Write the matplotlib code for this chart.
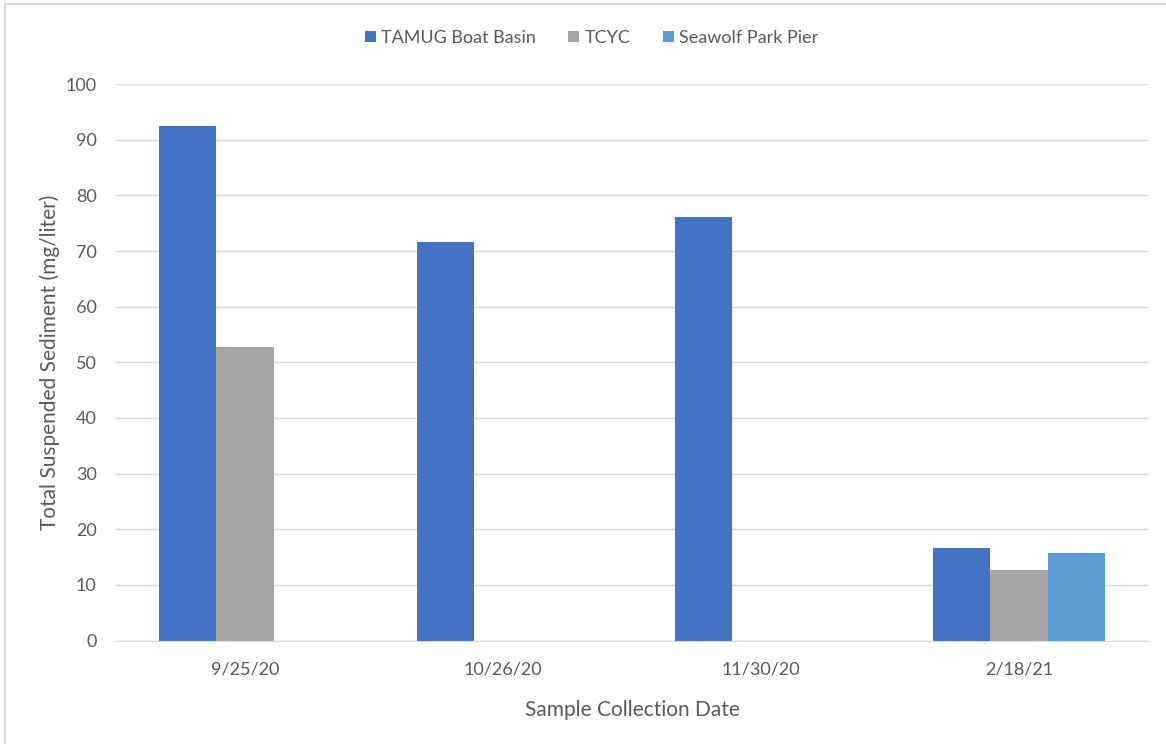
import matplotlib.pyplot as plt
from matplotlib.patches import Rectangle
import numpy as np

plt.rcParams['font.family'] = ['Lato', 'DejaVu Sans']

dates = ['9/25/20', '10/26/20', '11/30/20', '2/18/21']
sites = ['TAMUG Boat Basin', 'TCYC', 'Seawolf Park Pier']
tamug = [92.5, 71.7, 76.1, 16.7]
tcyc = [52.7, 0, 0, 12.7]
seawolf = [0, 0, 0, 15.7]
colors = ['#4472C4', '#A5A5A5', '#5B9BD5']

fig = plt.figure(figsize=(11.66, 7.44), dpi=100)
ax = fig.add_axes([0.0995, 0.139, 0.885, 0.748])

# chart frame (only top/left edges show)
fig.patches.append(Rectangle((5 / 1166, -0.05), 1.2, 1 - 4 / 744 + 0.05,
                             transform=fig.transFigure, fill=False,
                             edgecolor='#D9D9D9', linewidth=1.5))

x = np.arange(len(dates))
w = 1 / 4.5
for i, (vals, name) in enumerate(zip([tamug, tcyc, seawolf], sites)):
    ax.bar(x + (i - 1) * w, vals, width=w, color=colors[i], label=name, zorder=2)

ax.set_xlim(-0.5, len(dates) - 0.5)
ax.set_ylim(0, 100)
ax.set_yticks(range(0, 101, 10))
ax.set_xticks(x)
ax.set_xticklabels(dates)
ax.grid(axis='y', color='#D9D9D9', linewidth=1, zorder=0)
ax.tick_params(axis='both', length=0, labelsize=13, labelcolor='#595959')
ax.tick_params(axis='x', pad=15)
ax.tick_params(axis='y', pad=14)
for s in ['top', 'right', 'left']:
    ax.spines[s].set_visible(False)
ax.spines['bottom'].set_color('#D9D9D9')

ax.set_xlabel('Sample Collection Date', fontsize=15, color='#595959', labelpad=16)
ax.set_ylabel('Total Suspended Sediment (mg/liter)', fontsize=15, color='#595959', labelpad=4)

ax.legend(loc='center', bbox_to_anchor=(0.461, 1.083), ncol=3, frameon=False,
          fontsize=13, labelcolor='#595959', handlelength=0.6, handleheight=0.6,
          handletextpad=0.3, columnspacing=1.8)

fig.savefig('out.png', dpi=100)
